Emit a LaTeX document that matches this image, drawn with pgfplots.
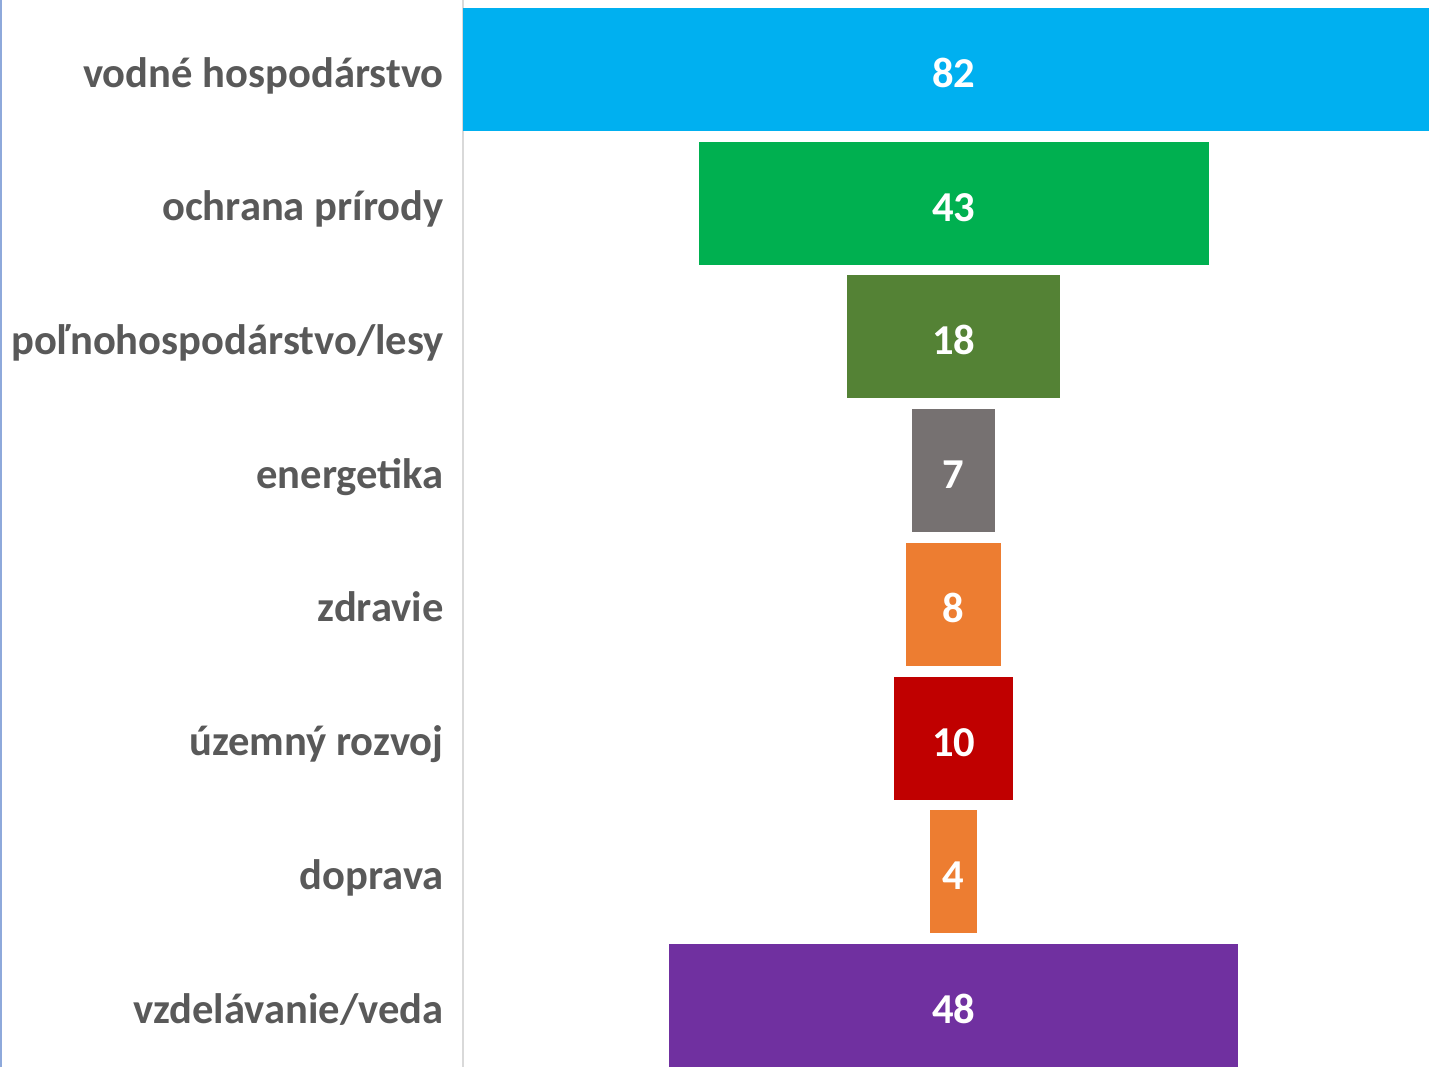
\documentclass[border=0pt]{standalone}
\usepackage{pgfplots}
\usepackage{pgfplotstable}
\pgfplotsset{compat=1.18}
\usepackage{fontspec}
\setmainfont{Carlito}
\definecolor{cBlue}{HTML}{00B0F0}
\definecolor{cGreen}{HTML}{00B050}
\definecolor{cDGreen}{HTML}{548235}
\definecolor{cGray}{HTML}{767171}
\definecolor{cOrange}{HTML}{ED7D31}
\definecolor{cRed}{HTML}{C00000}
\definecolor{cPurple}{HTML}{7030A0}
\definecolor{txtGray}{HTML}{595959}
\definecolor{axGray}{HTML}{D9D9D9}
\definecolor{edgeBlue}{HTML}{8EA9DB}

% row, offset (centre 41.4 minus half value; widest bar starts at the axis), value, centre
\pgfplotstableread{
row off v c
0 0 82 41.4
1 19.9 43 41.4
2 32.4 18 41.4
3 37.9 7 41.4
4 37.4 8 41.4
5 36.4 10 41.4
6 39.4 4 41.4
7 17.4 48 41.4
}\funnel

\pgfplotsset{
  funnelax/.style={
    at={(231.5pt,0pt)}, anchor=south west,
    scale only axis, width=483pt, height=533.5pt,
    xmin=0, xmax=81.5,
    ymin=-0.52, ymax=7.46, y dir=reverse,
  }
}

\begin{document}
\begin{tikzpicture}
\begin{axis}[
  funnelax,
  xbar stacked, bar width=61.5pt,
  hide x axis,
  axis y line*=left,
  y axis line style={draw=axGray, line width=1pt, -},
  ytick={0,...,7},
  yticklabels={vodné hospodárstvo, ochrana prírody, poľnohospodárstvo/lesy, energetika, zdravie, územný rozvoj, doprava, vzdelávanie/veda},
  major tick length=0pt,
  yticklabel style={anchor=base east, inner sep=0pt, xshift=-9.5pt, yshift=-8.75pt,
    font=\bfseries\fontsize{21.3}{25}\selectfont, text=txtGray},
]
\addplot[draw=none, fill=none] table[x=off, y=row]{\funnel};
\addplot[draw=none, fill=cBlue]    coordinates {(82,0) (0,1) (0,2) (0,3) (0,4) (0,5) (0,6) (0,7)};
\addplot[draw=none, fill=cGreen]   coordinates {(0,0) (43,1) (0,2) (0,3) (0,4) (0,5) (0,6) (0,7)};
\addplot[draw=none, fill=cDGreen]  coordinates {(0,0) (0,1) (18,2) (0,3) (0,4) (0,5) (0,6) (0,7)};
\addplot[draw=none, fill=cGray]    coordinates {(0,0) (0,1) (0,2) (7,3) (0,4) (0,5) (0,6) (0,7)};
\addplot[draw=none, fill=cOrange]  coordinates {(0,0) (0,1) (0,2) (0,3) (8,4) (0,5) (0,6) (0,7)};
\addplot[draw=none, fill=cRed]     coordinates {(0,0) (0,1) (0,2) (0,3) (0,4) (10,5) (0,6) (0,7)};
\addplot[draw=none, fill=cOrange]  coordinates {(0,0) (0,1) (0,2) (0,3) (0,4) (0,5) (4,6) (0,7)};
\addplot[draw=none, fill=cPurple]  coordinates {(0,0) (0,1) (0,2) (0,3) (0,4) (0,5) (0,6) (48,7)};
\end{axis}
\begin{axis}[
  funnelax,
  hide axis,
]
\addplot[draw=none, mark=none, point meta=explicit symbolic,
  nodes near coords={\pgfplotspointmeta},
  every node near coord/.style={anchor=base, inner sep=0pt, yshift=-9pt,
    text=white, font=\bfseries\fontsize{21.3}{25}\selectfont}]
  table[x=c, y=row, meta=v]{\funnel};
\end{axis}
\draw[edgeBlue, line width=1pt] (0.5pt,0pt) -- (0.5pt,533.5pt);
\pgfresetboundingbox
\path (0pt,0pt) rectangle (714.5pt,533.5pt);
\end{tikzpicture}
\end{document}
